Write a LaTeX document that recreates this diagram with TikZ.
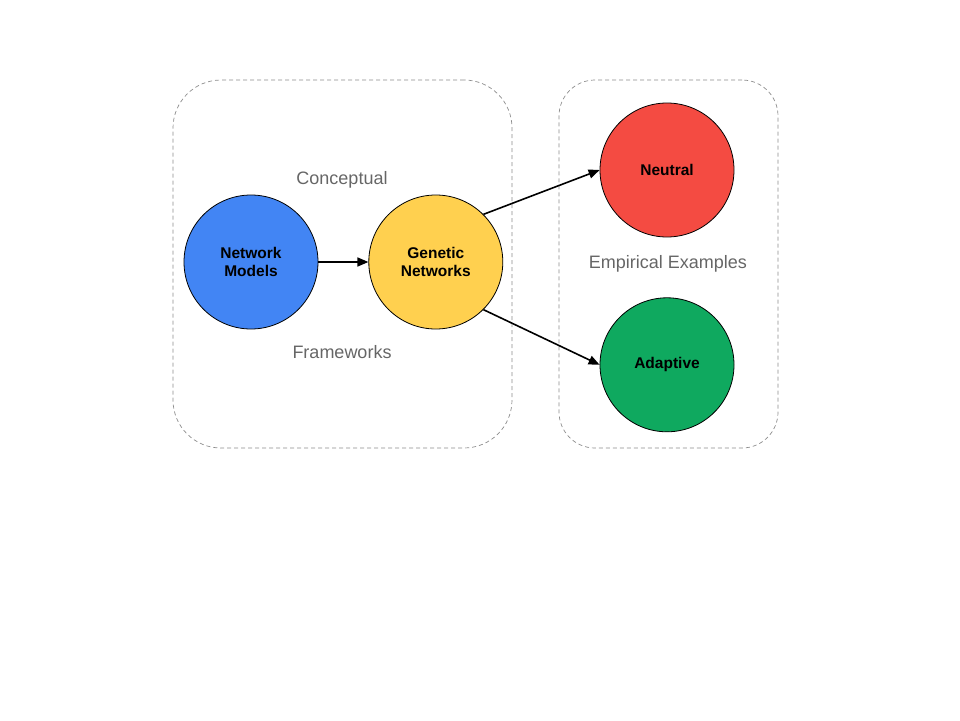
\documentclass[tikz,border=0pt]{standalone}
\usepackage{fontspec}
\setmainfont{Liberation Sans}
\usetikzlibrary{arrows.meta, positioning}
\definecolor{modelblue}{HTML}{4285F4}
\definecolor{geneyellow}{HTML}{FFD04F}
\definecolor{neutralred}{HTML}{F44B42}
\definecolor{adaptgreen}{HTML}{0FA95F}
\tikzset{
    blob/.style = {
      circle, draw=black, line width=0.8pt, minimum size=134pt, inner sep=0,
      align=center, font=\fontsize{15.5}{18}\selectfont\bfseries,
    },
    group box/.style = {
      draw=black!45!white, dash pattern=on 4pt off 3pt, line width=0.7pt,
      rounded corners=48pt,
    },
    group label/.style = {
      text=black!60!white, font=\fontsize{18}{21}\selectfont,
    },
    link/.style = {line width=1.6pt, black, arrows={-Triangle[length=11pt, width=9pt]}},
}
\begin{document}
\begin{tikzpicture}[x=1pt, y=-1pt]
    \useasboundingbox (0,0) rectangle (960,720);

    %% Draw the two dashed groups
    \node [group box, minimum width=339pt, minimum height=368pt] (concept) at (342.5,264) {};
    \node [group box, rounded corners=36pt, minimum width=219pt, minimum height=368pt]
          (empiric) at (668.5,264) {};

    %% Group labels
    \node [group label] (concept_top) at (342,180) {Conceptual};
    \node [group label] (concept_bottom) at (342,352) {Frameworks};
    \node [group label] (empiric_label) at (668,264) {Empirical Examples};

    %% Draw the circles
    \node [blob, fill=modelblue] (models) at (251,262) {Network\\Models};
    \node [blob, fill=geneyellow, right=50pt of models] (genes) {Genetic\\Networks};
    \node [blob, fill=neutralred] (neutral) at (667,170) {Neutral};
    \node [blob, fill=adaptgreen, below=60pt of neutral] (adaptive) {Adaptive};

    %% Connect them together
    \draw [link] (models) -- (genes);
    \draw [link] (genes.45) -- (neutral.west);
    \draw [link] (genes.-45) -- (adaptive.west);
\end{tikzpicture}
\end{document}
